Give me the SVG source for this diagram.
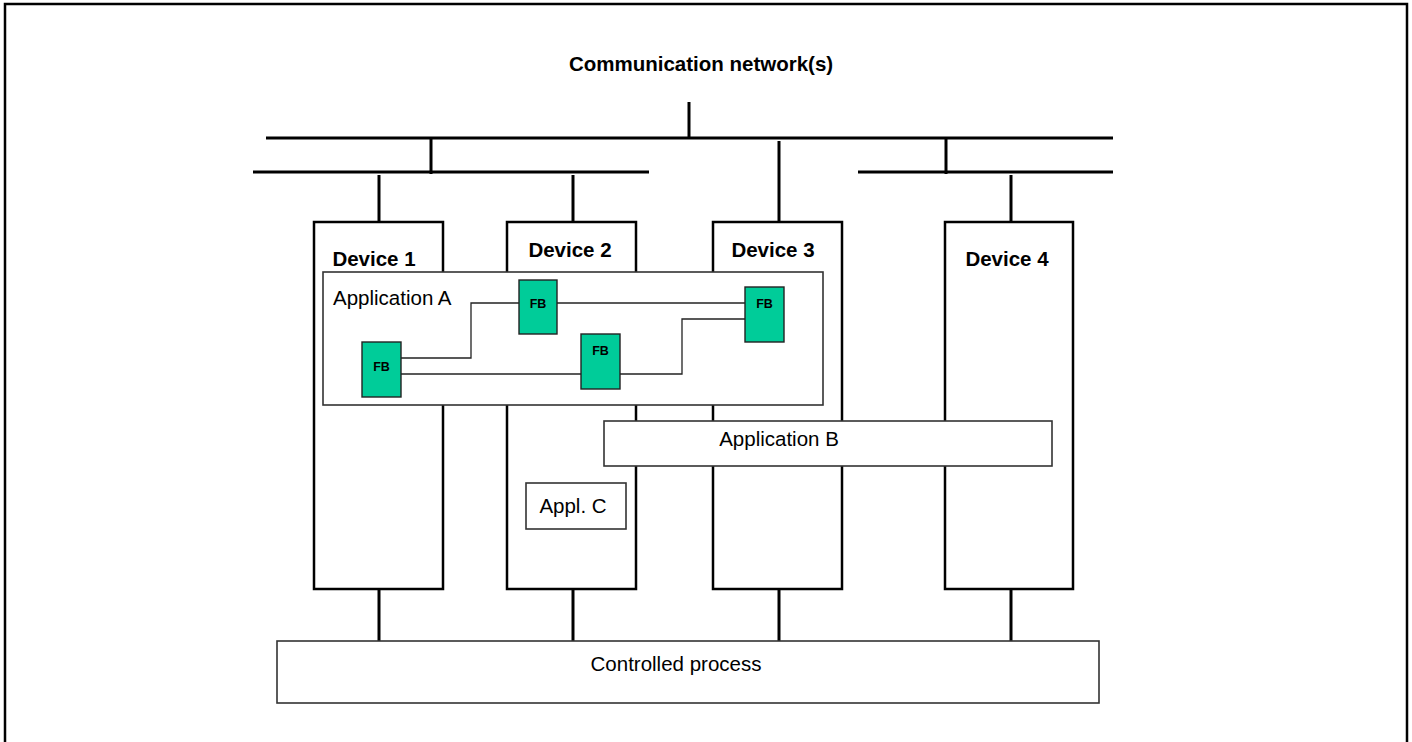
<svg xmlns="http://www.w3.org/2000/svg" width="1412" height="742" viewBox="0 0 1412 742">
  <style>
    .frame { fill: none; stroke: #000; stroke-width: 2.5; }
    .bus { fill: none; stroke: #000; stroke-width: 3; }
    .device { fill: #fff; stroke: #000; stroke-width: 2.5; }
    .app { fill: #fff; stroke: #333; stroke-width: 1.6; }
    .fb { fill: #00cc99; stroke: #222; stroke-width: 1.4; }
    .wire { fill: none; stroke: #222; stroke-width: 1.3; }
    .t { font-family: "Liberation Sans", Arial, sans-serif; font-size: 20.5px; fill: #000; }
    .b { font-weight: bold; }
    .fbt { font-family: "Liberation Sans", Arial, sans-serif; font-size: 12.5px; font-weight: bold; fill: #000; text-anchor: middle; }
  </style>

  <rect width="1412" height="742" fill="#fff"/>
  <!-- page frame (bottom edge runs off the sheet) -->
  <path class="frame" d="M5,746 V4 H1407 V746"/>

  <text class="t b" x="701" y="71" text-anchor="middle">Communication network(s)</text>

  <!-- network buses and drops -->
  <g id="connectors">
    <path class="bus" d="M689,102 V138"/>
    <path class="bus" d="M266,138 H1113"/>
    <path class="bus" d="M253,172 H649"/>
    <path class="bus" d="M858,172 H1113"/>
    <path class="bus" d="M431,137 V174"/>
    <path class="bus" d="M946,137 V174"/>
    <path class="bus" d="M379,175 V221"/>
    <path class="bus" d="M573,175 V221"/>
    <path class="bus" d="M779,141 V221"/>
    <path class="bus" d="M1011,175 V221"/>
    <path class="bus" d="M379,589 V641"/>
    <path class="bus" d="M573,589 V641"/>
    <path class="bus" d="M779,589 V641"/>
    <path class="bus" d="M1011,589 V641"/>
  </g>

  <!-- devices -->
  <g id="device1">
    <rect class="device" x="314" y="222" width="129" height="367"/>
    <text class="t b" x="374" y="266" text-anchor="middle">Device 1</text>
  </g>
  <g id="device2">
    <rect class="device" x="507" y="222" width="129" height="367"/>
    <text class="t b" x="570" y="257" text-anchor="middle">Device 2</text>
  </g>
  <g id="device3">
    <rect class="device" x="713" y="222" width="129" height="367"/>
    <text class="t b" x="773" y="257" text-anchor="middle">Device 3</text>
  </g>
  <g id="device4">
    <rect class="device" x="945" y="222" width="128" height="367"/>
    <text class="t b" x="1007" y="266" text-anchor="middle">Device 4</text>
  </g>

  <!-- distributed application A with its function blocks -->
  <g id="appA">
    <rect class="app" x="323" y="272" width="500" height="133"/>
    <text class="t" x="333" y="305">Application A</text>
    <g id="appA-links">
      <path class="wire" d="M401,358 H471 V303 H519"/>
      <path class="wire" d="M557,303 H745"/>
      <path class="wire" d="M401,374 H581"/>
      <path class="wire" d="M620,374 H682 V319 H745"/>
    </g>
    <g id="fb1">
      <rect class="fb" x="362" y="342" width="39" height="55"/>
      <text class="fbt" x="381.5" y="371">FB</text>
    </g>
    <g id="fb2">
      <rect class="fb" x="519" y="280" width="38" height="54"/>
      <text class="fbt" x="538" y="308">FB</text>
    </g>
    <g id="fb3">
      <rect class="fb" x="581" y="334" width="39" height="55"/>
      <text class="fbt" x="600.5" y="355">FB</text>
    </g>
    <g id="fb4">
      <rect class="fb" x="745" y="287" width="39" height="55"/>
      <text class="fbt" x="764.5" y="308">FB</text>
    </g>
  </g>

  <g id="appB">
    <rect class="app" x="604" y="421" width="448" height="45"/>
    <text class="t" x="779" y="446" text-anchor="middle">Application B</text>
  </g>

  <g id="appC">
    <rect class="app" x="526" y="483" width="100" height="46"/>
    <text class="t" x="573" y="513" text-anchor="middle">Appl. C</text>
  </g>

  <g id="process">
    <rect class="app" x="277" y="641" width="822" height="62"/>
    <text class="t" x="676" y="671" text-anchor="middle">Controlled process</text>
  </g>
</svg>
